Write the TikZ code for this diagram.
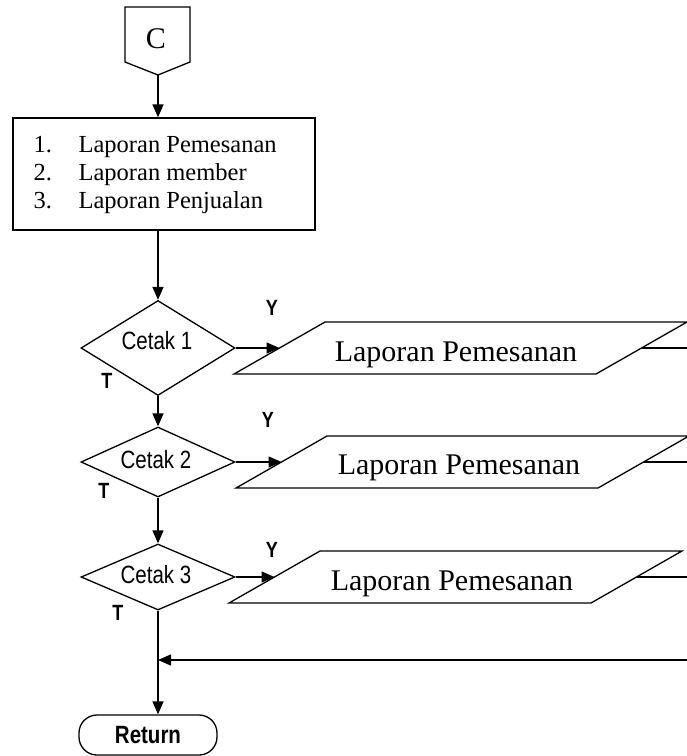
\documentclass[tikz,border=0pt]{standalone}
\usepackage{fontspec}
\setmainfont{Liberation Serif}
\newfontfamily\narrowsans[FakeStretch=0.82]{Liberation Sans}
\usetikzlibrary{shapes.geometric,arrows.meta}
\begin{document}
\begin{tikzpicture}[x=1pt,y=-1pt,line width=1.3pt,
  flow/.style={draw,-{Triangle[length=13pt,width=11pt]}},
  link/.style={draw},
  decision/.style={diamond,draw,inner sep=0pt,minimum width=154pt},
  sanslbl/.style={font=\narrowsans\fontsize{25}{30}\selectfont},
  ytlbl/.style={font=\narrowsans\bfseries\fontsize{22}{26}\selectfont},
  serifbig/.style={font=\fontsize{30}{36}\selectfont},
  serifmid/.style={font=\fontsize{24.5}{29}\selectfont},
  termbox/.style={draw,rounded corners=18pt,minimum width=138pt,minimum height=40pt,inner sep=0pt,
    font=\narrowsans\bfseries\fontsize{25}{30}\selectfont}]
\useasboundingbox (0,0) rectangle (687,756);

% off-page connector C
\draw (125,7) -- (190,7) -- (190,62) -- (158,75) -- (125,62) -- cycle;
\coordinate (cbot) at (158,75);
\node[serifbig,anchor=base,inner sep=0pt] (ctext) at (156,48) {C};

% process box
\node[draw,minimum width=302pt,minimum height=112pt,inner sep=0pt] (box) at (164,174) {};
\node[serifmid,anchor=base west,inner sep=0pt] (n1) at (33,152) {1.};
\node[serifmid,anchor=base west,inner sep=0pt] (l1) at (78,152) {Laporan Pemesanan};
\node[serifmid,anchor=base west,inner sep=0pt] (n2) at (33,180) {2.};
\node[serifmid,anchor=base west,inner sep=0pt] (l2) at (78,180) {Laporan member};
\node[serifmid,anchor=base west,inner sep=0pt] (n3) at (33,208) {3.};
\node[serifmid,anchor=base west,inner sep=0pt] (l3) at (78,208) {Laporan Penjualan};

% decisions
\node[decision,minimum height=95pt] (d1) at (158,348) {};
\node[decision,minimum height=70pt] (d2) at (158,462) {};
\node[decision,minimum height=66pt] (d3) at (158,577) {};
\node[sanslbl,anchor=base,inner sep=0pt] (t1) at (157,349) {Cetak 1};
\node[sanslbl,anchor=base,inner sep=0pt] (t2) at (156,468) {Cetak 2};
\node[sanslbl,anchor=base,inner sep=0pt] (t3) at (156,583) {Cetak 3};

% Y / T labels
\node[ytlbl,inner sep=0pt] (y1) at (272,308) {Y};
\node[ytlbl,inner sep=0pt] (tt1) at (107,381) {T};
\node[ytlbl,inner sep=0pt] (y2) at (268,420) {Y};
\node[ytlbl,inner sep=0pt] (tt2) at (104,491) {T};
\node[ytlbl,inner sep=0pt] (y3) at (272,550) {Y};
\node[ytlbl,inner sep=0pt] (tt3) at (118,613) {T};

% parallelograms (outputs)
\draw (325,322) -- (687,322) -- (596,374) -- (234,374) -- cycle;
\coordinate (p1in) at (279.5,348);
\coordinate (p1out) at (641.5,348);
\coordinate (e1) at (687,348);
\node[serifbig,anchor=base,inner sep=0pt] (p1) at (456,361) {Laporan Pemesanan};

\draw (327,436) -- (689,436) -- (598,488) -- (236,488) -- cycle;
\coordinate (p2in) at (281.5,462);
\coordinate (p2out) at (643.5,462);
\coordinate (e2) at (687,462);
\node[serifbig,anchor=base,inner sep=0pt] (p2) at (459,474) {Laporan Pemesanan};

\draw (320,551) -- (682,551) -- (591,603) -- (229,603) -- cycle;
\coordinate (p3in) at (274.5,577);
\coordinate (p3out) at (636.5,577);
\coordinate (e3) at (687,577);
\node[serifbig,anchor=base,inner sep=0pt] (p3) at (452,590) {Laporan Pemesanan};

% terminal
\node[termbox] (ret) at (148,735) {Return};
\coordinate (eret) at (687,660);

% connectors
\draw[flow] (cbot) -- (box.north -| cbot);
\draw[flow] (box.south -| cbot) -- (d1.north);
\draw[flow] (d1.south) -- (d2.north);
\draw[flow] (d2.south) -- (d3.north);
\draw[flow] (d3.south) -- (ret.north -| d3.south);
\draw[flow] (d1.east) -- (p1in);
\draw[flow] (d2.east) -- (p2in);
\draw[flow] (d3.east) -- (p3in);
\draw[link] (p1out) -- (e1);
\draw[link] (p2out) -- (e2);
\draw[link] (p3out) -- (e3);
\draw[flow] (eret) -- (eret -| d3.south);
\end{tikzpicture}
\end{document}
